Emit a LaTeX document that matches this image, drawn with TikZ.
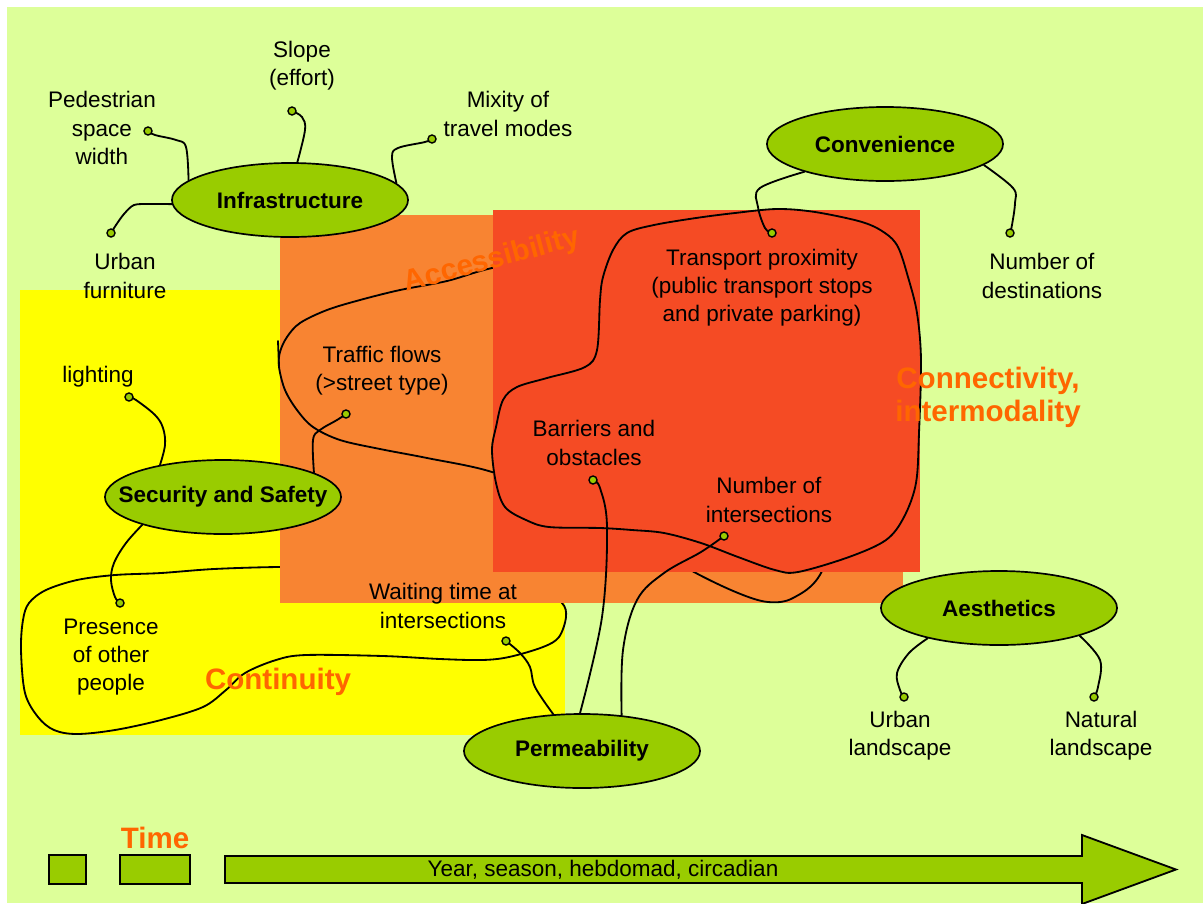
\documentclass[tikz,border=0pt]{standalone}
\usepackage{fontspec}
\setmainfont{Liberation Sans}
\usepackage{xcolor}
\usepackage{tikz}
\usetikzlibrary{shapes.geometric, backgrounds}
\pgfdeclarelayer{wires}
\pgfsetlayers{background,wires,main}

\definecolor{meadow}{HTML}{DDFF99}
\definecolor{zoneyellow}{HTML}{FFFF00}
\definecolor{zoneorange}{HTML}{F88432}
\definecolor{zonered}{HTML}{F54B24}
\definecolor{leafgreen}{HTML}{99CC00}
\definecolor{themeorange}{HTML}{FF6600}

\newcommand{\flabel}[1]{\makebox[0pt]{#1}}

\begin{document}
\begin{tikzpicture}[
        x=0.025cm, y=-0.025cm,
        font=\fontsize{16}{20}\selectfont,
        factor/.style = {ellipse, draw=black, line width=1.2pt, fill=leafgreen, minimum width=5.9cm, minimum height=1.85cm, inner sep=0pt, font=\fontsize{16}{20}\selectfont\bfseries},
        item/.style = {align=center, inner sep=0pt},
        theme/.style = {align=center, inner sep=0pt, text=themeorange, font=\fontsize{21}{23.5}\selectfont\bfseries},
        dot/.style = {circle, draw=black, line width=1pt, fill=leafgreen, minimum size=0.2cm, inner sep=0pt},
        wire/.style = {draw=black, line width=1.3pt, line cap=round, line join=round},
        timebox/.style = {draw=black, line width=1.6pt, fill=leafgreen}
    ]

    \useasboundingbox (0,0) rectangle (1203,903);

    % Zones
    \begin{scope}[on background layer]
        \fill[white] (0,0) rectangle (1203,903);
        \fill[meadow] (7,7) rectangle (1203,903);
        \fill[zoneyellow] (20,290) rectangle (565,735);
        \draw[wire] plot[smooth cycle, tension=0.55] coordinates {(279,567) (214,569) (161,573) (115,575) (77,580) (46,590) (29,603) (23,620) (21,650) (25,693) (38,717) (54,730) (77,734) (115,730) (161,720) (203,707) (226,690) (245,673) (276,660) (306,655) (383,656) (440,659) (482,660) (509,657) (543,647) (559,637) (566,617) (562,603) (540,590) (420,576) (330,568)};
        \fill[zoneorange] (280,215) rectangle (903,603);
        \draw[wire] plot[smooth cycle, tension=0.55] coordinates {(492,268) (447,281) (400,290) (360,300) (327,310) (300,323) (287,337) (280,352) (279,367) (285,390) (297,410) (313,427) (340,440) (380,449) (427,458) (492,472) (560,500) (640,540) (694,572) (738,593) (768,602) (793,598) (821,573) (845,500) (800,350) (700,262) (580,250)};
        \draw[wire] (278,341) -- (279,366);
        \fill[zonered] (493,210) rectangle (920,572);
        \draw[wire] plot[smooth cycle, tension=0.55] coordinates {(600,300) (603,277) (613,250) (627,233) (654,225) (696,218) (735,213) (777,209) (815,212) (862,222) (885,233) (898,247) (908,277) (917,313) (921,360) (919,433) (916,483) (904,517) (886,540) (849,557) (798,572) (775,570) (738,557) (701,543) (664,533) (632,530) (600,528) (549,527) (526,520) (505,507) (496,483) (492,450) (496,427) (503,400) (517,387) (547,378) (585,367) (597,350)};
    \end{scope}

    % Factors
    \node[factor] (infra) at (290,200) {\flabel{Infrastructure}};
    \node[factor] (conv) at (885,144) {\flabel{Convenience}};
    \node[factor] (secu) at (223,497) {\flabel{Security and Safety}};
    \node[factor] (perm) at (582,751) {\flabel{Permeability}};
    \node[factor] (aest) at (999,608) {\flabel{Aesthetics}};

    % Attachment dots
    \node[dot] (dped) at (148,131) {};
    \node[dot] (dslope) at (292,111) {};
    \node[dot] (dmix) at (432,139) {};
    \node[dot] (dfurn) at (111,233) {};
    \node[dot] (dtransp) at (772,233) {};
    \node[dot] (ddest) at (1010,233) {};
    \node[dot] (dlight) at (129,397) {};
    \node[dot] (dtraffic) at (346,414) {};
    \node[dot] (dpres) at (120,603) {};
    \node[dot] (dwait) at (506,641) {};
    \node[dot] (dbarr) at (593,480) {};
    \node[dot] (dinter) at (724,536) {};
    \node[dot] (durban) at (904,697) {};
    \node[dot] (dnat) at (1094,697) {};

    % Labels
    \node[item] (pedlbl) at (102,128) {Pedestrian\\space\\width};
    \node[item] (slopelbl) at (302,66) {Slope\\(effort)};
    \node[item] (mixlbl) at (508,114) {Mixity of\\travel modes};
    \node[item] (furnlbl) at (125,276) {Urban\\furniture};
    \node[item] (transplbl) at (762,288) {Transport proximity\\(public transport stops\\and private parking)};
    \node[item] (destlbl) at (1042,276) {Number of\\destinations};
    \node[item] (lightlbl) at (98,377) {lighting};
    \node[item] (trafficlbl) at (382,371) {Traffic flows\\(>street type)};
    \node[item] (preslbl) at (111,657) {Presence\\of other\\people};
    \node[item] (waitlbl) at (443,606) {Waiting time at\\intersections};
    \node[item] (barrlbl) at (594,443) {Barriers and\\obstacles};
    \node[item] (interlbl) at (769,500) {Number of\\intersections};
    \node[item] (urbanlbl) at (900,736) {Urban\\landscape};
    \node[item] (natlbl) at (1101,736) {Natural\\landscape};

    % Themes
    \node[theme, rotate=15] (access) at (492,261) {Accessibility};
    \node[theme] (connect) at (988,397) {Connectivity,\\intermodality};
    \node[theme] (contin) at (278,682) {Continuity};
    \node[theme] (timelbl) at (155,838) {Time};

    % Connectors
    \begin{pgfonlayer}{wires}
        \draw[wire] plot[smooth, tension=0.6] coordinates {(infra.169) (186,147) (176,140) (155,135) (dped.center)};
        \draw[wire] plot[smooth, tension=0.6] coordinates {(infra.79) (305,130) (302,117) (dslope.center)};
        \draw[wire] plot[smooth, tension=0.6] coordinates {(infra.9) (392,157) (398,148) (425,142) (dmix.center)};
        \draw[wire] plot[smooth, tension=0.5] coordinates {(infra.182) (150,204) (134,205) (124,214) (116,225) (dfurn.center)};
        \draw[wire] plot[smooth, tension=0.6] coordinates {(conv.199) (760,188) (758,207) (765,228) (dtransp.center)};
        \draw[wire] plot[smooth, tension=0.6] coordinates {(conv.348) (1013,188) (1015,203) (1012,225) (ddest.center)};
        \draw[wire] plot[smooth, tension=0.6] coordinates {(secu.153) (165,445) (163,428) (155,415) (136,400) (dlight.center)};
        \draw[wire] plot[smooth, tension=0.6] coordinates {(secu.15) (313,440) (320,430) (337,420) (dtraffic.center)};
        \draw[wire] plot[smooth, tension=0.6] coordinates {(secu.199) (126,543) (114,563) (111,580) (115,597) (dpres.center)};
        \draw[wire] plot[smooth, tension=0.6] coordinates {(perm.128) (535,687) (530,667) (520,653) (dwait.center)};
        \draw[wire] plot[smooth, tension=0.6] coordinates {(perm.93) (602,617) (607,527) (600,488) (dbarr.center)};
        \draw[wire] plot[smooth, tension=0.6] coordinates {(perm.42) (623,650) (637,600) (664,573) (701,552) (dinter.center)};
        \draw[wire] plot[smooth, tension=0.6] coordinates {(aest.203) (909,653) (897,673) (900,690) (durban.center)};
        \draw[wire] plot[smooth, tension=0.6] coordinates {(aest.341) (1100,660) (1098,687) (dnat.center)};
    \end{pgfonlayer}

    % Time bar
    \draw[timebox] (49,855) rectangle (86,884);
    \draw[timebox] (120,855) rectangle (190,884);
    \draw[timebox, line width=1.3pt, line join=miter] (225,856) -- (1082,856) -- (1082,835) -- (1176,869.5) -- (1082,904) -- (1082,883) -- (225,883) -- cycle;
    \node[item] (timetext) at (603,870) {Year, season, hebdomad, circadian};

\end{tikzpicture}
\end{document}
